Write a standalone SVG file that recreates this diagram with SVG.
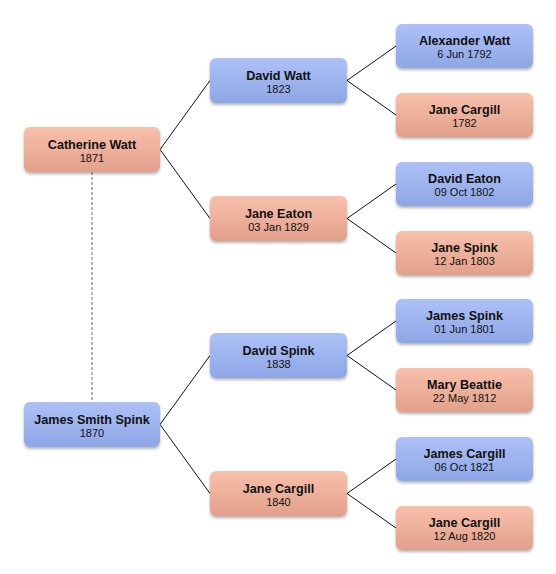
<svg xmlns="http://www.w3.org/2000/svg" width="556" height="574" viewBox="0 0 556 574">
<style>
.n text{font-family:"Liberation Sans",Arial,sans-serif;text-anchor:middle;fill:#111}
.nm{font-size:12.6px;font-weight:bold}
.dt{font-size:11px}
.f{fill:url(#gf);filter:url(#sh)}
.m{fill:url(#gm);filter:url(#sh)}
.c path{stroke:#111;stroke-width:1;fill:none}
.c .d{stroke:#666;stroke-dasharray:3,2}
</style>
<defs>
<linearGradient id="gf" x1="0" y1="0" x2="0" y2="1"><stop offset="0" stop-color="#f8c0ab"/><stop offset="1" stop-color="#e2a08b"/></linearGradient>
<linearGradient id="gm" x1="0" y1="0" x2="0" y2="1"><stop offset="0" stop-color="#adc1f7"/><stop offset="1" stop-color="#8ea6e6"/></linearGradient>
<filter id="sh" x="-10%" y="-20%" width="120%" height="150%"><feGaussianBlur in="SourceAlpha" stdDeviation="1.5"/><feOffset dy="2"/><feComponentTransfer><feFuncA type="linear" slope="0.3"/></feComponentTransfer><feMerge><feMergeNode/><feMergeNode in="SourceGraphic"/></feMerge></filter>
</defs>
<g class="c" id="connectors">
<path class="d" d="M92 172V402"/>
<path d="M160 149.5L210 80.5M160 149.5L210 218.5"/>
<path d="M160 424.5L210 355.5M160 424.5L210 493.5"/>
<path d="M347 80.5L396 46M347 80.5L396 115"/>
<path d="M347 218.5L396 184M347 218.5L396 253"/>
<path d="M347 355.5L396 321M347 355.5L396 390"/>
<path d="M347 493.5L396 459M347 493.5L396 528"/>
</g>
<g class="n" id="catherine"><rect class="f" x="24" y="127" width="136" height="45" rx="6"/><text class="nm" x="92" y="149">Catherine Watt</text><text class="dt" x="92" y="162">1871</text></g>
<g class="n" id="jamessmith"><rect class="m" x="24" y="402" width="136" height="45" rx="6"/><text class="nm" x="92" y="424">James Smith Spink</text><text class="dt" x="92" y="437">1870</text></g>
<g class="n" id="davidwatt"><rect class="m" x="210" y="58" width="137" height="45" rx="6"/><text class="nm" x="278.5" y="80">David Watt</text><text class="dt" x="278.5" y="93">1823</text></g>
<g class="n" id="janeeaton"><rect class="f" x="210" y="196" width="137" height="45" rx="6"/><text class="nm" x="278.5" y="218">Jane Eaton</text><text class="dt" x="278.5" y="231">03 Jan 1829</text></g>
<g class="n" id="davidspink"><rect class="m" x="210" y="333" width="137" height="45" rx="6"/><text class="nm" x="278.5" y="355">David Spink</text><text class="dt" x="278.5" y="368">1838</text></g>
<g class="n" id="janecargill1840"><rect class="f" x="210" y="471" width="137" height="45" rx="6"/><text class="nm" x="278.5" y="493">Jane Cargill</text><text class="dt" x="278.5" y="506">1840</text></g>
<g class="n" id="alexanderwatt"><rect class="m" x="396" y="24" width="137" height="44" rx="6"/><text class="nm" x="464.5" y="45">Alexander Watt</text><text class="dt" x="464.5" y="58">6 Jun 1792</text></g>
<g class="n" id="janecargill1782"><rect class="f" x="396" y="93" width="137" height="44" rx="6"/><text class="nm" x="464.5" y="114">Jane Cargill</text><text class="dt" x="464.5" y="127">1782</text></g>
<g class="n" id="davideaton"><rect class="m" x="396" y="162" width="137" height="44" rx="6"/><text class="nm" x="464.5" y="183">David Eaton</text><text class="dt" x="464.5" y="196">09 Oct 1802</text></g>
<g class="n" id="janespink"><rect class="f" x="396" y="231" width="137" height="44" rx="6"/><text class="nm" x="464.5" y="252">Jane Spink</text><text class="dt" x="464.5" y="265">12 Jan 1803</text></g>
<g class="n" id="jamesspink"><rect class="m" x="396" y="299" width="137" height="44" rx="6"/><text class="nm" x="464.5" y="320">James Spink</text><text class="dt" x="464.5" y="333">01 Jun 1801</text></g>
<g class="n" id="marybeattie"><rect class="f" x="396" y="368" width="137" height="44" rx="6"/><text class="nm" x="464.5" y="389">Mary Beattie</text><text class="dt" x="464.5" y="402">22 May 1812</text></g>
<g class="n" id="jamescargill"><rect class="m" x="396" y="437" width="137" height="44" rx="6"/><text class="nm" x="464.5" y="458">James Cargill</text><text class="dt" x="464.5" y="471">06 Oct 1821</text></g>
<g class="n" id="janecargill1820"><rect class="f" x="396" y="506" width="137" height="44" rx="6"/><text class="nm" x="464.5" y="527">Jane Cargill</text><text class="dt" x="464.5" y="540">12 Aug 1820</text></g>
</svg>
